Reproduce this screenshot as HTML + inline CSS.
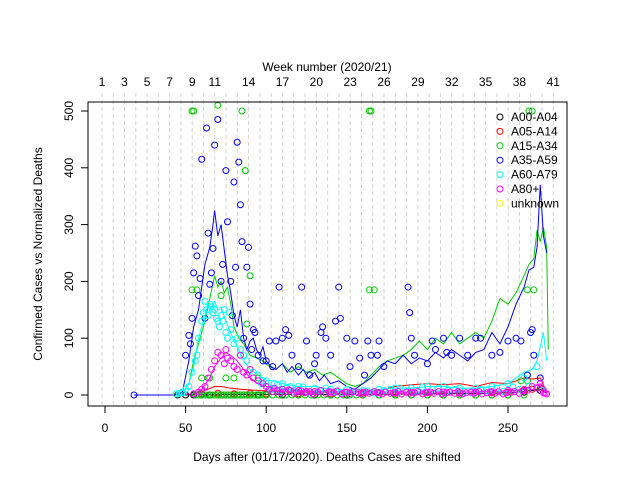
<!DOCTYPE html>
<html><head><meta charset="utf-8"><style>
body{margin:0;background:#fff}
svg{display:block;font-family:"Liberation Sans",sans-serif}
</style></head><body>
<svg id="chart" width="640" height="480">
<g id="grid"></g>
<g id="lines"></g>
<g id="pts"></g>
<rect x="88" y="102" width="479" height="304" fill="none" stroke="#000"/>
<g id="axes"></g>
<text x="327" y="71" text-anchor="middle" font-size="12">Week number (2020/21)</text>
<text x="327" y="461" text-anchor="middle" font-size="12">Days after (01/17/2020). Deaths Cases are shifted</text>
<text transform="translate(42,254) rotate(-90)" text-anchor="middle" font-size="12">Confirmed Cases vs Normalized Deaths</text>
<g id="legend"></g>
</svg>
<script>
const xTicks=[0,50,100,150,200,250];
const yTicks=[0,100,200,300,400,500];
const weekLabels=[1,3,5,7,9,11,14,17,20,23,26,29,32,35,38,41];
const seriesNames=["A00-A04","A05-A14","A15-A34","A35-A59","A60-A79","A80+","unknown"];
const seriesColors=["#000","#f00","#0c0","#00f","#0ff","#f0f","#ff0"];

const blueLineDays=[18,43,48,52,55,58,62,65,67,68,70,72,74,76,78,80,82,84,86,88,90,92,94,96,98,100,103,106,110,113,116,120,123,126,130,133,136,140,145,150,155,160,165,170,175,180,185,190,195,200,205,210,215,220,225,230,235,240,245,250,255,260,263,266,268,270,272,274];
const blueLineVals=[0,0,5,60,120,150,230,260,300,325,280,300,255,210,180,140,120,150,100,80,95,100,80,70,85,60,50,45,55,40,50,35,45,30,40,25,35,20,25,15,10,20,30,45,60,55,70,55,65,60,75,65,80,70,60,75,80,110,90,120,160,190,220,225,260,370,280,250];
const greenLineDays=[43,48,52,55,58,62,65,68,70,72,74,76,78,80,83,86,90,94,98,102,106,110,115,120,125,130,135,140,145,150,155,160,165,170,175,180,185,190,195,200,205,210,215,220,225,230,235,240,245,250,255,260,263,266,268,270,272,274,275];
const greenLineVals=[0,2,20,60,90,130,170,210,190,200,180,190,160,120,100,90,70,65,60,50,45,55,40,50,40,45,35,40,30,20,15,20,35,50,60,65,70,80,95,80,100,90,110,90,100,110,100,130,170,160,180,210,230,240,290,270,295,260,80];
const cyanLineDays=[43,48,52,55,58,62,64,66,68,70,72,75,78,80,83,86,90,95,100,105,110,120,130,140,150,160,170,180,190,200,210,220,230,240,250,255,260,265,268,272,274];
const cyanLineVals=[0,2,20,50,100,140,160,150,165,150,155,130,110,95,80,60,45,35,25,25,20,15,15,10,10,8,10,12,12,15,15,12,12,15,20,30,40,45,60,110,60];
const magentaLineDays=[43,55,60,65,68,72,75,78,82,86,90,95,100,110,120,140,160,180,200,220,240,255,265,270,274];
const magentaLineVals=[0,2,10,30,50,65,75,70,60,45,30,20,15,10,8,6,5,5,5,5,6,8,15,20,10];
const redLineDays=[43,55,62,68,72,78,85,95,110,130,150,170,180,190,200,210,220,230,240,250,260,265,270,274];
const redLineVals=[0,2,8,15,15,12,10,8,6,5,5,8,15,18,20,18,20,15,22,20,30,28,30,5];
const blackLineDays=[43,100,150,200,240,255,265,270,274];
const blackLineVals=[0,1,1,2,3,5,8,10,3];

const blueDays=[18,50,52,53,54,55,56,57,58,59,60,62,63,64,65,66,67,68,70,72,73,75,76,78,79,80,81,82,83,84,85,86,88,89,90,91,92,93,95,98,100,102,104,106,108,110,112,114,116,120,122,125,127,130,131,134,135,137,140,143,145,146,150,152,155,158,161,163,165,169,170,173,188,189,190,192,200,203,205,210,212,215,220,225,230,233,240,245,250,255,258,262,264,265,266,270];
const blueVals=[0,70,105,90,135,215,262,245,175,205,415,135,470,285,195,215,258,440,485,200,230,395,305,200,140,375,225,445,410,335,270,100,225,260,160,80,115,110,70,60,60,95,50,95,190,100,115,105,70,50,190,95,35,55,70,110,120,100,70,130,190,135,100,50,95,65,35,95,70,70,95,50,190,145,100,70,55,95,80,100,75,70,100,70,100,100,70,75,95,100,95,35,110,115,70,30];
const greenDays=[54,55,54,57,70,85,87,90,88,72,75,60,65,80,95,164,165,164,167,263,265,262,266,258,262];
const greenVals=[500,500,185,185,510,500,395,210,125,175,30,30,30,30,30,500,500,185,185,500,500,185,185,25,25];
const greenLowDays=[56,58,60,62,64,66,68,70,72,74,76,78,80,82,84,86,88,90,92,94,96,98,100,104,108,112,116,120,124,128,132,136,140,144,148,152,156,160,170,180,190,200,210,220,230,240,250,260];
const greenLowVals=[0,0,0,0,0,0,0,0,0,0,0,0,0,0,0,0,0,0,0,0,0,0,0,0,0,0,0,0,0,0,0,0,0,0,0,0,0,0,0,0,0,0,0,0,0,0,0,0];
const cyanDays=[48,50,52,54,56,57,58,60,61,62,63,64,65,66,67,68,69,70,71,72,73,74,75,76,77,78,80,82,84,86,88,90,92,95,98,100,105,110,115,120,130,140,150,160,170,180,190,200,210,220,230,240,250,260,268];
const cyanVals=[5,10,15,40,60,70,100,130,145,165,150,140,160,155,145,150,135,130,120,140,130,150,110,100,145,115,90,100,80,70,60,45,40,35,25,25,20,20,15,15,12,10,10,8,10,12,12,15,15,12,12,15,20,30,50];
const cyanLowDays=[44,46,48,97,101,103,107,109,113,117,119,123,127,133,137,143,147,153,157,163,167,173,177,183,187,193,197,203,207,213,217,223,227,233,237,243,247,253,257,263,271];
const cyanLowVals=[2,3,4,20,15,10,18,8,12,6,10,14,5,8,12,6,4,3,5,7,4,8,10,12,6,8,14,10,12,8,10,6,4,10,8,12,6,14,10,16,8];
const magentaDays=[55,58,60,62,64,66,68,70,72,74,75,76,78,80,82,84,86,88,90,92,95,98,100,105,110,115,120,125,130,140,150,160,170,180,190,200,210,220,230,240,250,260,265,270,273];
const magentaVals=[2,5,10,15,30,45,60,75,70,55,80,65,60,50,45,70,40,35,45,30,25,20,15,12,10,8,8,6,6,5,5,5,4,4,5,5,5,4,5,6,8,10,15,20,3];
const magentaLowDays=[102,104,107,109,112,114,117,119,122,124,127,129,132,134,137,139,142,144,147,149,152,154,157,159,162,164,167,169,172,174,177,179,182,184,187,189,192,194,197,199,202,204,207,209,212,214,217,219,222,224,227,229,232,234,237,239,242,244,247,249,252,254,257,259,262,268,272,274];
const magentaLowVals=[10,6,8,4,6,9,3,5,7,4,6,2,5,8,3,6,4,7,2,5,3,6,4,2,5,3,6,4,2,5,3,4,6,2,5,3,4,6,2,4,5,3,6,2,4,5,3,6,2,4,5,3,6,2,4,5,3,6,2,4,5,6,3,7,8,12,4,2];
const redDays=[60,70,80,90,100,120,140,160,180,200,220,240,250,260,265,270];
const redVals=[2,3,2,3,2,2,2,3,3,4,3,4,5,8,10,12];
const blackDays=[45,50,55,60,65,70,72,74,76,78,80,82,84,86,88,90,95,100,110,120,130,140,150,160,170,180,190,200,210,220,230,240,250,260,270];
const blackVals=[0,0,0,0,0,0,0,0,0,0,0,0,0,0,0,0,0,0,0,0,0,0,0,0,0,0,0,0,0,0,0,0,0,5,8];

const NS="http://www.w3.org/2000/svg";
const sx=d=>105+d*1.612;
const sy=v=>395-v*0.568;
function mk(tag,attrs,parent){const e=document.createElementNS(NS,tag);for(const k in attrs)e.setAttribute(k,attrs[k]);parent.appendChild(e);return e;}

const grid=document.getElementById('grid');
for(let w=1;w<=41;w++){
  const x=sx(-1.9+(w-1)*7);
  const l=mk('line',{x1:x,x2:x,y1:93,y2:406,stroke:'#d3d3d3','stroke-dasharray':'4,3'},grid);
  
  
}
const axes=document.getElementById('axes');
xTicks.forEach(t=>{
  const x=sx(t);
  const l=mk('line',{x1:x,x2:x,y1:406,y2:413,stroke:'#000'},axes);
  
  
  const tx=mk('text',{x:x,y:432,'text-anchor':'middle','font-size':12},axes);
  tx.textContent=t;
  
  
});
yTicks.forEach(t=>{
  const y=sy(t);
  const l=mk('line',{x1:81,x2:88,y1:y,y2:y,stroke:'#000'},axes);
  
  
  const tx=mk('text',{transform:`translate(73,${y}) rotate(-90)`,'text-anchor':'middle','font-size':12},axes);
  tx.textContent=t;
  
  
});
weekLabels.forEach(w=>{
  const tx=mk('text',{x:sx(-1.9+(w-1)*7),y:86,'text-anchor':'middle','font-size':12},axes);
  tx.textContent=w;
  
  
});

const lines=document.getElementById('lines');
function drawLine(days,vals,col,name){
  const p=mk('polyline',{points:days.map((d,i)=>sx(d)+','+sy(vals[i])).join(' '),fill:'none',stroke:col,'stroke-width':1},lines);
  
  
}
const pts=document.getElementById('pts');
function drawPts(days,vals,col,name){
  days.forEach((d,i)=>{
    const c=mk('circle',{cx:sx(d),cy:sy(vals[i]),r:3,fill:'none',stroke:col,'stroke-width':1},pts);
    
    
  });
}
drawPts(blackDays,blackVals,'#000','point-a00-a04');
drawPts(redDays,redVals,'#f00','point-a05-a14');
drawPts(greenLowDays,greenLowVals,'#0c0','point-a15-a34');
drawPts(greenDays,greenVals,'#0c0','point-a15-a34');
drawPts(blueDays,blueVals,'#00f','point-a35-a59');
drawPts(cyanDays,cyanVals,'#0ff','point-a60-a79');
drawPts(cyanLowDays,cyanLowVals,'#0ff','point-a60-a79');
drawPts(magentaDays,magentaVals,'#f0f','point-a80');
drawPts(magentaLowDays,magentaLowVals,'#f0f','point-a80');
drawLine(blackLineDays,blackLineVals,'#000','line-a00-a04');
drawLine(redLineDays,redLineVals,'#f00','line-a05-a14');
drawLine(greenLineDays,greenLineVals,'#0c0','line-a15-a34');
drawLine(cyanLineDays,cyanLineVals,'#0ff','line-a60-a79');
drawLine(magentaLineDays,magentaLineVals,'#f0f','line-a80');
drawLine(blueLineDays,blueLineVals,'#00f','line-a35-a59');

const lg=document.getElementById('legend');
seriesNames.forEach((n,i)=>{
  const y=117+i*14.4;
  const c=mk('circle',{cx:500,cy:y,r:3,fill:'none',stroke:seriesColors[i]},lg);
  
  
  const t=mk('text',{x:511,y:y+4,'font-size':12},lg);
  t.textContent=n;
  
  
});
</script>
</body></html>
